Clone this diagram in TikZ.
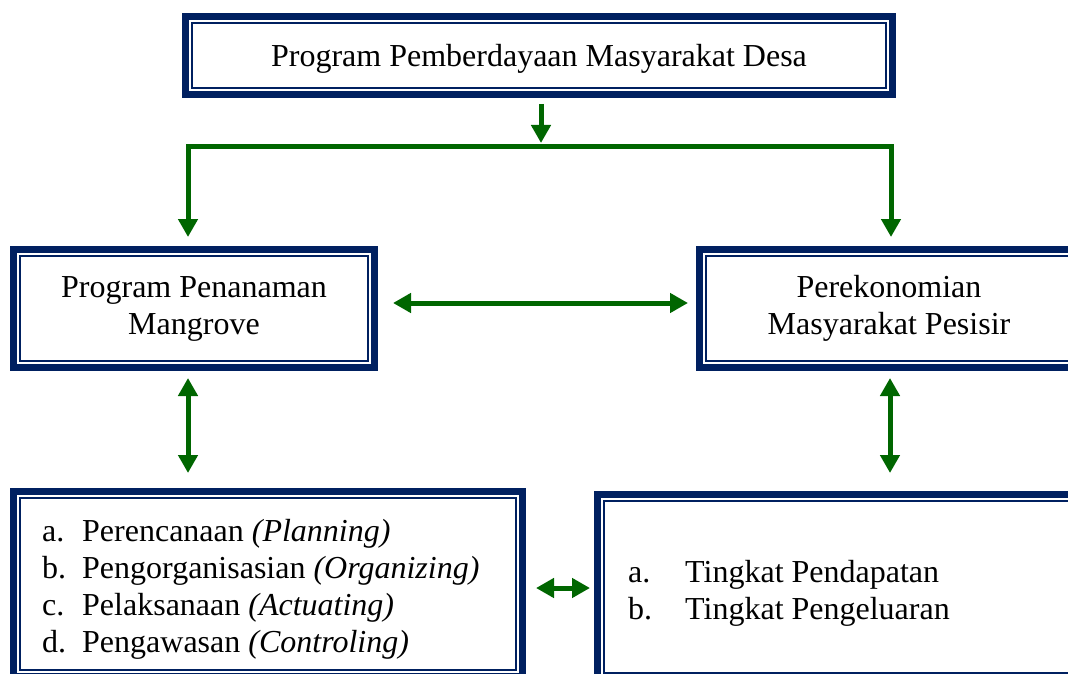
\documentclass[tikz,border=0pt]{standalone}
\usepackage{fontspec}
\setmainfont{Liberation Serif}
\usetikzlibrary{arrows.meta}
\definecolor{navy}{RGB}{0,32,96}
\definecolor{dgreen}{RGB}{0,102,0}
\tikzset{
  dbox/.style={draw=navy, line width=7pt, fill=white, inner sep=0pt,
    font=\fontsize{32}{37}\selectfont,
    path picture={\draw[navy,line width=2pt]
      ([shift={(6.5pt,-6.5pt)}]path picture bounding box.north west) rectangle
      ([shift={(-6.5pt,6.5pt)}]path picture bounding box.south east);}},
  txt/.style={inner sep=0pt, font=\fontsize{32}{37}\selectfont, align=left, anchor=west},
  darr/.style={draw=dgreen, line width=5pt, line join=miter,
    {Triangle[width=19pt,length=18pt]}-{Triangle[width=19pt,length=18pt]}},
  sarr/.style={draw=dgreen, line width=5pt, -{Triangle[width=19pt,length=18pt]}}
}
\begin{document}
\begin{tikzpicture}[x=1pt,y=-1pt]
\useasboundingbox (0,0) rectangle (1068,674);
\clip (0,0) rectangle (1068,674);
\node[dbox, minimum width=707pt, minimum height=78pt] (top) at (539,55.5) {\raisebox{-3pt}[\height][\depth]{Program Pemberdayaan Masyarakat Desa}};
\node[dbox, minimum width=361pt, minimum height=118pt, align=center] (ml) at (194,308.5) {Program Penanaman\\Mangrove};
\node[dbox, minimum width=379pt, minimum height=118pt, align=center] (mr) at (889,308.5) {Perekonomian\\Masyarakat Pesisir};
\node[dbox, minimum width=509pt, minimum height=185pt] (bl) at (268,584) {};
\node[dbox, minimum width=489pt, minimum height=185pt] (br) at (842,587) {};
\node[txt] (bltext) at (42,589) {\makebox[40pt][l]{a.}Perencanaan \textit{(Planning)}\\
\makebox[40pt][l]{b.}Pengorganisasian \textit{(Organizing)}\\
\makebox[40pt][l]{c.}Pelaksanaan \textit{(Actuating)}\\
\makebox[40pt][l]{d.}Pengawasan \textit{(Controling)}};
\node[txt] (brtext) at (628,593) {\makebox[57pt][l]{a.}Tingkat Pendapatan\\
\makebox[57pt][l]{b.}Tingkat Pengeluaran};
% connectors
\coordinate (j) at (541,143);
\coordinate (jl) at (188,147);
\coordinate (jr) at (891,147);
\coordinate (tl) at (188,237);
\coordinate (tr) at (891,237);
\draw[sarr, shorten <=6pt] (top.south -| j) -- (j);
\draw[darr] (tl) -- (jl) -- (jr) -- (tr);
\coordinate (h1) at (393,303);
\coordinate (h2) at (688,303);
\draw[darr] (h1) -- (h2);
\coordinate (v1) at (188,378);
\coordinate (v2) at (188,473);
\draw[darr] (v1) -- (v2);
\coordinate (w1) at (890,378);
\coordinate (w2) at (890,473);
\draw[darr] (w1) -- (w2);
\coordinate (b1) at (536,588);
\coordinate (b2) at (590,588);
\draw[darr] (b1) -- (b2);
\end{tikzpicture}
\end{document}
